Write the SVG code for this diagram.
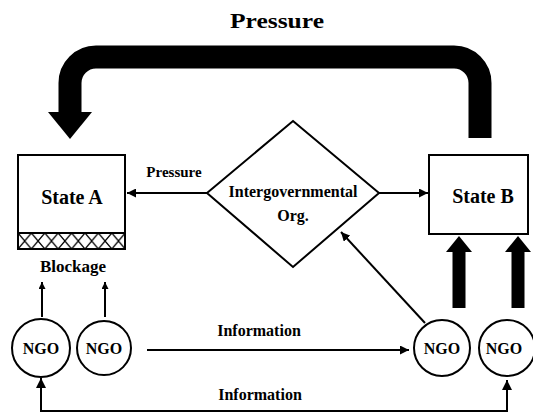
<svg xmlns="http://www.w3.org/2000/svg" width="533" height="414" viewBox="0 0 533 414">
<style>
text{font-family:"Liberation Serif","Times New Roman",serif;font-weight:bold;fill:#000;text-anchor:middle}
.ln{stroke:#000;stroke-width:2;fill:none}
.box{fill:#fff;stroke:#000;stroke-width:2}
.fill{fill:#000;stroke:none}
</style>
<defs>
<marker id="ah" viewBox="0 0 10 10" refX="10" refY="5" markerWidth="7" markerHeight="7" markerUnits="userSpaceOnUse" orient="auto">
<path d="M0,0 L10,5 L0,10 z" fill="#000"/>
</marker>
<marker id="ah2" viewBox="0 0 10 10" refX="10" refY="5" markerWidth="9" markerHeight="9" orient="auto" markerUnits="userSpaceOnUse">
<path d="M0,0 L10,5 L0,10 z" fill="#000"/>
</marker>
<pattern id="hatch" width="13.4" height="16" patternUnits="userSpaceOnUse" x="18" y="233">
<path d="M0,0 L13.4,16 M13.4,0 L0,16" stroke="#000" stroke-width="1.3"/>
</pattern>
</defs>
<text x="277" y="28" font-size="22" textLength="94" lengthAdjust="spacingAndGlyphs">Pressure</text>
<g id="connectors">
<path d="M480,138 V83 A26,26 0 0 0 454,57 H96 A26,26 0 0 0 70,83 V113" stroke="#000" stroke-width="23" fill="none"/>
<polygon class="fill" points="48,112 92,112 70,139"/>
<line class="ln" x1="207" y1="193" x2="127" y2="193" marker-end="url(#ah2)"/>
<line class="ln" x1="379" y1="193" x2="428" y2="193" marker-end="url(#ah2)"/>
<line class="ln" x1="425" y1="323" x2="341" y2="232" marker-end="url(#ah2)"/>
<rect class="fill" x="452.5" y="250" width="13" height="58"/>
<polygon class="fill" points="446,252 472,252 459,236"/>
<rect class="fill" x="511.5" y="250" width="13" height="58"/>
<polygon class="fill" points="505,252 531,252 518,236"/>
<line class="ln" x1="42" y1="317" x2="42" y2="282" marker-end="url(#ah)"/>
<line class="ln" x1="105" y1="317" x2="105" y2="282" marker-end="url(#ah)"/>
<line class="ln" x1="147" y1="350" x2="409" y2="350" marker-end="url(#ah2)"/>
<polyline class="ln" points="41,378 41,411 507,411 507,380"/>
<polygon class="fill" points="36,388 46,388 41,378"/>
<polygon class="fill" points="502,390 512,390 507,380"/>
<text x="174" y="177" font-size="15">Pressure</text>
<text x="259" y="336" font-size="16">Information</text>
<text x="260" y="400" font-size="16">Information</text>
</g>
<g id="stateA">
<rect class="box" x="18" y="155" width="107" height="78"/>
<rect x="18" y="233" width="107" height="16" fill="url(#hatch)" stroke="#000" stroke-width="2"/>
<text x="72" y="204" font-size="20">State A</text>
<text x="73" y="272" font-size="17">Blockage</text>
</g>
<g id="igo">
<polygon class="box" points="293,121 379,193 293,267 207,193"/>
<text x="293" y="197" font-size="16">Intergovernmental</text>
<text x="293" y="221" font-size="16">Org.</text>
</g>
<g id="stateB">
<rect class="box" x="429" y="155" width="99" height="79"/>
<text x="483" y="203" font-size="20">State B</text>
</g>
<g id="ngo1"><circle class="box" cx="41" cy="348" r="29"/><text x="41" y="354" font-size="16">NGO</text></g>
<g id="ngo2"><circle class="box" cx="104" cy="348" r="27"/><text x="104" y="354" font-size="16">NGO</text></g>
<g id="ngo3"><circle class="box" cx="442" cy="348" r="28"/><text x="442" y="354" font-size="16">NGO</text></g>
<g id="ngo4"><circle class="box" cx="507" cy="348" r="28"/><text x="504" y="354" font-size="16">NGO</text></g>
</svg>
